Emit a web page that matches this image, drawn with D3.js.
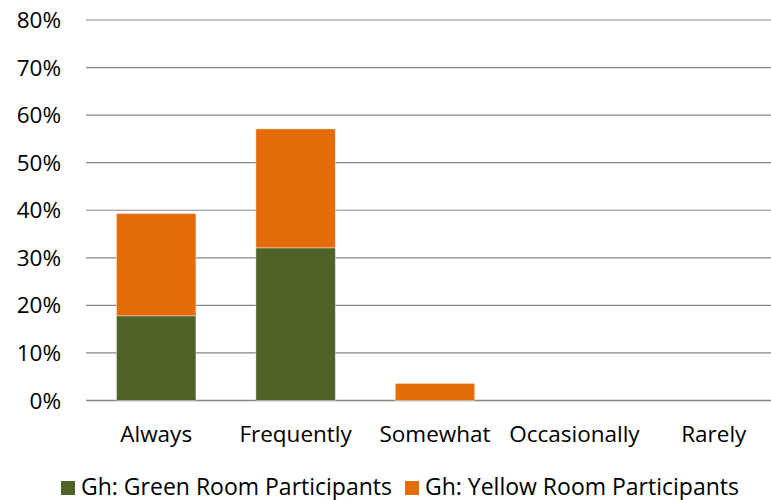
<!DOCTYPE html>
<html><head><meta charset="utf-8">
<script src="https://cdn.jsdelivr.net/npm/d3@7"></script>
<style>body{margin:0;background:#fff}svg{display:block}text{font-family:"Open Sans",sans-serif;fill:#000}</style>
</head><body><svg id="c" width="771" height="500"></svg>
<script>
const categories = ["Always","Frequently","Somewhat","Occasionally","Rarely"];
const green = [17.8, 32.1, 0, 0, 0];
const yellow = [21.5, 25.0, 3.6, 0, 0];
const seriesNames = ["Gh: Green Room Participants","Gh: Yellow Room Participants"];
const yTicks = [0,10,20,30,40,50,60,70,80];
const colors = ["#4F6228","#E46C0A"];

const svg = d3.select("#c");
const W = 771, H = 500;
const x = d3.scaleBand().domain(categories).range([86.5, 783.5]).paddingInner(0.43).paddingOuter(0.215);
const y = d3.scaleLinear().domain([0,80]).range([400.5, 20]);
const fs = 22.5;

const g = svg.append("g");
g.selectAll("line.grid").data(yTicks).join("line")
  .attr("x1", 86).attr("x2", W)
  .attr("y1", d=>y(d)).attr("y2", d=>y(d))
  .attr("stroke", "#868686").attr("stroke-width", d=> d===0?1.5:1.2);

g.selectAll("text.yl").data(yTicks).join("text")
  .attr("x", 61).attr("y", d=>y(d)).attr("dy","0.36em")
  .attr("text-anchor","end").attr("font-size", fs).text(d=>d+"%");

const data = categories.map((c,i)=>({cat:c, green:green[i], yellow:yellow[i]}));
const stack = d3.stack().keys(["green","yellow"])(data);
stack.forEach((s,si)=>{
  g.selectAll("rect.s"+si).data(s.filter(d=>d[1]-d[0]>0)).join("rect")
    .attr("x", d=>x(d.data.cat)).attr("width", x.bandwidth())
    .attr("y", d=>y(d[1])).attr("height", d=>y(d[0])-y(d[1]))
    .attr("fill", colors[si]).attr("stroke","#fff").attr("stroke-opacity",0.5).attr("stroke-width",0.8);
});

g.selectAll("text.xl").data(categories).join("text")
  .attr("x", d=>x(d)+x.bandwidth()/2).attr("y", 441.5)
  .attr("text-anchor","middle").attr("font-size", fs).text(d=>d);

// legend
const leg = svg.append("g");
const lx = [61, 405];
seriesNames.forEach((n,i)=>{
  leg.append("rect").attr("x", lx[i]).attr("y", 481).attr("width", 14).attr("height", 14).attr("fill", colors[i]);
  leg.append("text").attr("x", lx[i]+20).attr("y", 494.5).attr("font-size",23).text(n);
});
</script></body></html>
